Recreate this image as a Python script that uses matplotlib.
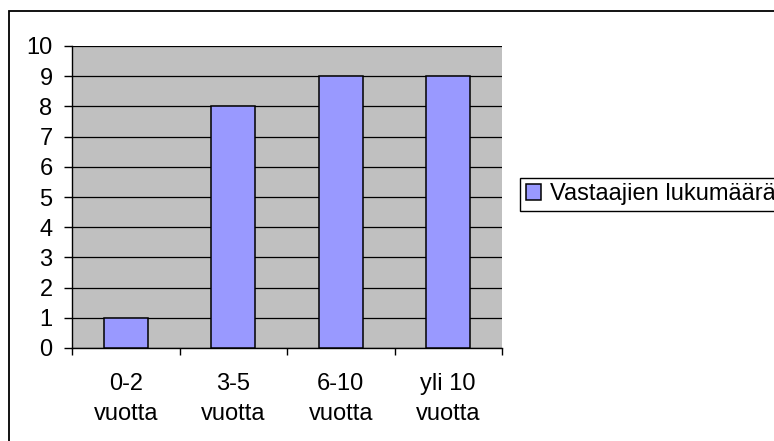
import numpy as np
import matplotlib
matplotlib.use("Agg")
from matplotlib import pyplot as plt
from matplotlib.patches import Rectangle

plt.rcParams['font.family'] = ['Liberation Sans', 'DejaVu Sans']

categories = ["0-2\nvuotta", "3-5\nvuotta", "6-10\nvuotta", "yli 10\nvuotta"]
counts = [1, 8, 9, 9]
series_name = "Vastaajien lukumäärä"

W, H = 774, 441
fig = plt.figure(figsize=(W / 100, H / 100), dpi=100)

# outer chart frame (runs off the right and bottom edges)
fig.patches.append(Rectangle((8.5 / W, -0.1), 1.0, 1 - 11 / H + 0.1,
                             transform=fig.transFigure, fill=False,
                             edgecolor='black', lw=1.3, clip_on=False))

ax = fig.add_axes([72 / W, 1 - 348 / H, (502 - 72) / W, (348 - 46) / H])
ax.set_facecolor('#C0C0C0')

x = np.arange(len(categories))
bars = ax.bar(x, counts, width=0.41, color='#9999FF', edgecolor='black',
              lw=1.1, zorder=3, label=series_name)

ax.set_xlim(-0.5, len(categories) - 0.5)
ax.set_ylim(0, 10)
ax.set_yticks(range(0, 11))
ax.yaxis.grid(True, color='black', lw=0.9, zorder=1)
ax.set_axisbelow(True)

ax.set_xticks(np.arange(-0.5, len(categories), 1.0))
ax.set_xticklabels([])
ax.set_xticks(x, minor=True)
ax.set_xticklabels(categories, minor=True, fontsize=17, linespacing=1.45)
ax.tick_params(axis='x', which='minor', length=0, pad=18)
ax.tick_params(axis='x', which='major', length=5, width=1, direction='out')
ax.tick_params(axis='y', length=6, width=1, direction='out', labelsize=17, pad=8)

for s in ['top', 'right']:
    ax.spines[s].set_visible(False)
ax.spines['left'].set_linewidth(1)
ax.spines['bottom'].set_linewidth(1)

leg = fig.legend(handles=[bars], labels=[series_name], loc='upper left',
                 bbox_to_anchor=(520 / W, 1 - 177.5 / H), fontsize=17,
                 frameon=True, fancybox=False, framealpha=1,
                 handlelength=0.62, handleheight=0.62, handletextpad=0.4,
                 borderpad=0.25, borderaxespad=0)
leg.get_frame().set_edgecolor('black')
leg.get_frame().set_linewidth(1)

fig.savefig("out.png", dpi=100)
